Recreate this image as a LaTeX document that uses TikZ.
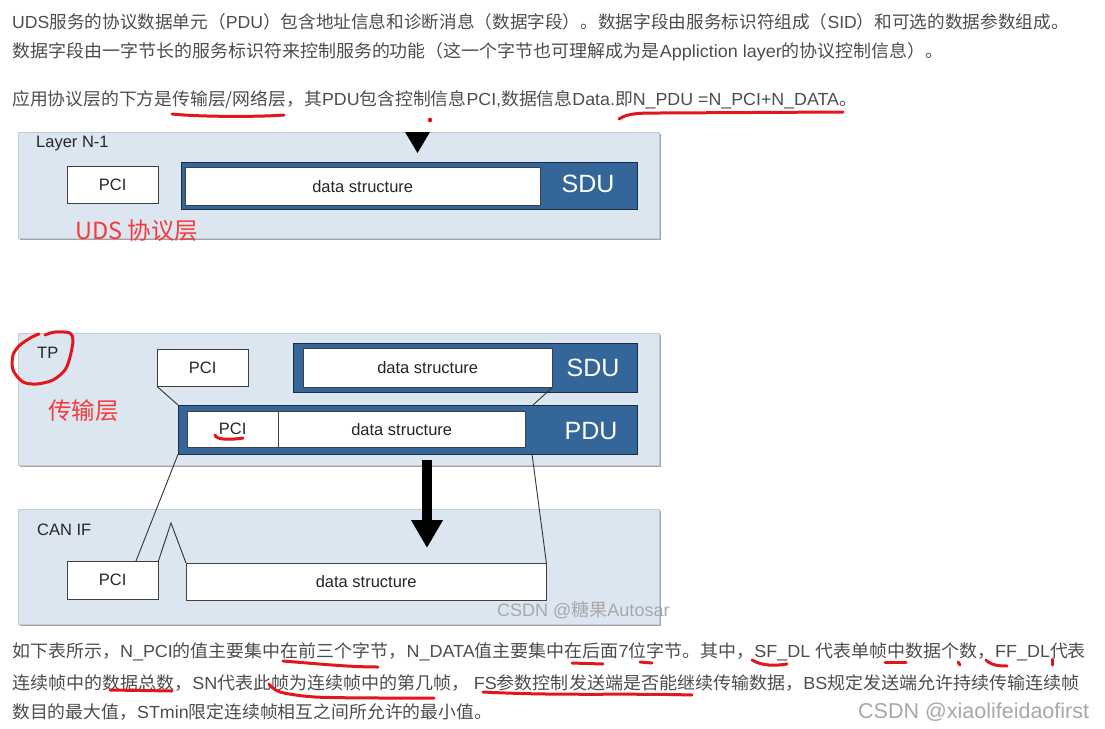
\documentclass[tikz,border=0pt]{standalone}
\usepackage{graphicx}
\usepackage{fontspec}
\setmainfont{Liberation Sans}
\newfontfamily\cjk{Noto Sans CJK SC}
\newcommand\latn[1]{{\rmfamily #1}}
\usetikzlibrary{arrows.meta, shadows, calc}
\definecolor{panelbg}{HTML}{DCE6F1}
\definecolor{panelrim}{HTML}{C3CDD8}
\definecolor{panelshade}{HTML}{A2A2A2}
\definecolor{unitblue}{HTML}{346699}
\definecolor{unitrim}{HTML}{1C2C44}
\definecolor{bodytext}{HTML}{4D4D4D}
\definecolor{penred}{HTML}{E3161B}
\definecolor{notered}{HTML}{F53A3A}
\definecolor{wmarkgray}{HTML}{A8A8A8}

\begin{document}
\begin{tikzpicture}[
    x=1pt, y=-1pt,
    para/.style={anchor=west, inner sep=0pt, text=bodytext, font=\cjk\fontsize{17.5}{21}\selectfont},
    panel/.style={draw=panelrim, fill=panelbg, anchor=north west, inner sep=0pt, copy shadow={shadow xshift=2pt, shadow yshift=-2pt, fill=panelshade, draw=none}},
    tag/.style={anchor=west, inner sep=0pt, text=black!85, font=\fontsize{16.5}{18}\selectfont},
    cell/.style={draw=black!75, fill=white, anchor=north west, inner sep=0pt, text=black!85, font=\fontsize{16.5}{18}\selectfont},
    unit/.style={draw=unitrim, fill=unitblue, anchor=north west, inner sep=0pt},
    unitname/.style={inner sep=0pt, text=white, font=\fontsize{25}{27}\selectfont},
    note/.style={anchor=west, inner sep=0pt, text=notered, font=\cjk\fontsize{23.5}{25}\selectfont},
    wmark/.style={anchor=west, inner sep=0pt, text=wmarkgray, font=\fontsize{18}{20}\selectfont},
    wire/.style={draw=black!80, line width=0.9pt},
    pen/.style={draw=penred, line width=3pt, line cap=round, line join=round},
  ]
  \fill[white] (0,0) rectangle (1105,728);
  \useasboundingbox (0,0) rectangle (1105,728);

  \node[para] (top1) at (12,22) {\scalebox{1.008}[1]{\latn{UDS}服务的协议数据单元（\latn{PDU}）包含地址信息和诊断消息（数据字段）。数据字段由服务标识符组成（\latn{SID}）和可选的数据参数组成。}};
  \node[para] (top2) at (12,52) {\scalebox{1.028}[1]{数据字段由一字节长的服务标识符来控制服务的功能（这一个字节也可理解成为是\latn{Appliction layer}的协议控制信息）。}};
  \node[para] (top3) at (12,100) {\scalebox{1.018}[1]{应用协议层的下方是传输层/网络层，其\latn{PDU}包含控制信息\latn{PCI,}数据信息\latn{Data.}即\latn{N\_PDU =N\_PCI+N\_DATA}。}};

  \node[panel, minimum width=641pt, minimum height=106pt] (uds) at (18,132) {};
  \node[tag] (udsname) at (36,144) {Layer N-1};
  \node[cell, minimum width=91pt, minimum height=37pt] (udspci) at (67,166) {PCI};
  \node[unit, minimum width=456pt, minimum height=47pt] (udssdu) at (181,162) {};
  \node[cell, minimum width=355pt, minimum height=38pt] (udsdata) at (185,167) {data structure};
  \node[unitname] at (588,184) {SDU};
  \fill[black] (405,132) -- (430,132) -- (417.5,153) -- cycle;
  \node[note] (udsnote) at (75,231) {UDS 协议层};

  \node[panel, minimum width=641pt, minimum height=132pt] (tp) at (18,333) {};
  \node[tag] (tpname) at (37,353) {TP};
  \node[cell, minimum width=91pt, minimum height=37pt] (tppci) at (157,349) {PCI};
  \node[unit, minimum width=344pt, minimum height=49pt] (tpsdu) at (293,343) {};
  \node[cell, minimum width=249pt, minimum height=39pt] (tpdata) at (303,348) {data structure};
  \node[unitname] at (593,368) {SDU};
  \node[unit, minimum width=459pt, minimum height=49pt] (pdu) at (178,405) {};
  \node[cell, minimum width=91pt, minimum height=36pt] (pdupci) at (187,411) {PCI};
  \node[cell, minimum width=247pt, minimum height=36pt] (pdudata) at (278,411) {data structure};
  \node[unitname] at (591,431) {PDU};
  \node[note] (tpnote) at (48,411) {传输层};
  \coordinate (splittop) at (533,405);
  \coordinate (splitbot) at (532,454);
  \draw[wire] (tppci.south west) -- (pdu.north west);
  \draw[wire] (tpdata.south east) -- (splittop);

  \node[panel, minimum width=641pt, minimum height=115pt] (canif) at (18,509) {};
  \node[tag] (canname) at (37,530) {CAN IF};
  \node[cell, minimum width=91pt, minimum height=38pt] (canpci) at (67,561) {PCI};
  \node[cell, minimum width=360pt, minimum height=37pt] (candata) at (186,563) {data structure};
  \coordinate (pcihit) at (136,561);
  \coordinate (peak) at (171,523);
  \draw[wire] (pdu.south west) -- (pcihit);
  \draw[wire] (splitbot) -- (candata.north east);
  \draw[wire] (canpci.north east) -- (peak) -- (candata.north west);
  \coordinate (flowtop) at (427,460);
  \coordinate (flowend) at (427,548);
  \draw[line width=10pt, -{Triangle[width=30pt, length=28pt]}] (flowtop) -- (flowend);
  \node[wmark] (mark1) at (497,610) {CSDN @{\cjk 糖果}Autosar};

  \node[para] (low1) at (12,652) {\scalebox{1.027}[1]{如下表所示，\latn{N\_PCI}的值主要集中在前三个字节，\latn{N\_DATA}值主要集中在后面\latn{7}位字节。其中，\latn{SF\_DL }代表单帧中数据个数，\latn{FF\_DL}代表}};
  \node[para] (low2) at (12,683) {\scalebox{1.03}[1]{连续帧中的数据总数，\latn{SN}代表此帧为连续帧中的第几帧， \latn{FS}参数控制发送端是否能继续传输数据，\latn{BS}规定发送端允许持续传输连续帧}};
  \node[para] (low3) at (12,712) {\scalebox{1.02}[1]{数目的最大值，\latn{STmin}限定连续帧相互之间所允许的最小值。}};
  \node[wmark, font=\fontsize{21.5}{23}\selectfont] (mark2) at (858,712) {CSDN @xiaolifeidaofirst};

  % red pen marks
  \draw[pen] (172,114) .. controls (200,117) and (260,117) .. (284,115);
  \draw[pen] (619,119) .. controls (628,113) and (640,113) .. (660,113) -- (843,112);
  \fill[penred] (430,120) circle (2.3);
  \draw[pen] plot[smooth] coordinates {(45,335) (55,332) (70,333) (73,341) (70,357) (65,370) (53,380) (37,384) (23,382) (13,370) (13,355) (20,345) (32,337) (39,334)};
  \draw[pen] (215,435) .. controls (216,440) and (230,440) .. (243,438);
  \draw[pen] (283,661) .. controls (320,664) and (350,667) .. (378,667);
  \draw[pen] (572,663) -- (603,664);
  \draw[pen] (640,662) -- (652,663);
  \draw[pen] (752,660) .. controls (762,666) and (775,666) .. (787,664);
  \draw[pen] (885,662) -- (906,662);
  \draw[pen] (958,662) -- (960,665);
  \draw[pen] (986,660) .. controls (992,666) and (1000,666) .. (1007,666);
  \draw[pen] (1052,659) -- (1052,665);
  \draw[pen] (110,690) -- (172,691);
  \draw[pen] plot[smooth] coordinates {(269,684) (280,692) (315,697) (380,698) (434,698)};
  \draw[pen] (483,692) .. controls (560,696) and (620,693) .. (692,695);
\end{tikzpicture}
\end{document}
